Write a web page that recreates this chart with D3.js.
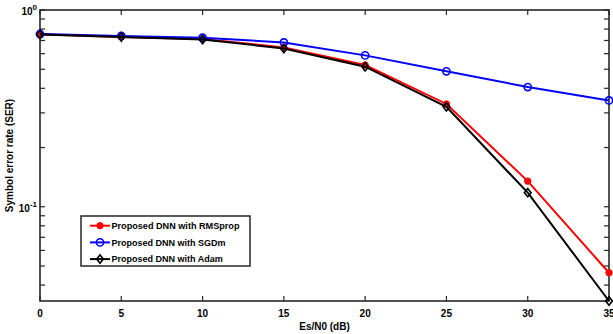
<!DOCTYPE html>
<html><head><meta charset="utf-8">
<script src="https://cdn.jsdelivr.net/npm/d3@7"></script>
<style>body{margin:0;background:#fff}svg{display:block}text{font-family:"Liberation Sans",Arial,sans-serif;font-weight:bold;fill:#000}</style>
</head><body><svg id="c" width="613" height="334"></svg>
<script>
const snr = [0, 5, 10, 15, 20, 25, 30, 35];
const rmsprop = [0.752, 0.730, 0.712, 0.645, 0.525, 0.333, 0.135, 0.0462];
const sgdm = [0.755, 0.738, 0.723, 0.684, 0.588, 0.488, 0.406, 0.347];
const adam = [0.750, 0.729, 0.708, 0.638, 0.515, 0.322, 0.118, 0.0332];
const seriesNames = ["Proposed DNN with RMSprop", "Proposed DNN with SGDm", "Proposed DNN with Adam"];
const xTicks = [0, 5, 10, 15, 20, 25, 30, 35];
const xDomain = [0, 35];
const yDomain = [0.0332, 1];
const yMajor = [1, 0.1];
const yMinor = [0.9,0.8,0.7,0.6,0.5,0.4,0.3,0.2,0.09,0.08,0.07,0.06,0.05,0.04];

const svg = d3.select("#c");
const L = 40, R = 609, T = 10, B = 301;
const x = d3.scaleLinear().domain(xDomain).range([L, R]);
const y = d3.scaleLog().domain(yDomain).range([B, T]);
const axisColor = "#262626";
const tl = 5;

// frame
svg.append("rect").attr("x", L).attr("y", T).attr("width", R - L).attr("height", B - T)
  .attr("fill", "none").attr("stroke", axisColor).attr("stroke-width", 1.6);

// x ticks
const gx = svg.append("g");
xTicks.forEach(v => {
  gx.append("line").attr("x1", x(v)).attr("x2", x(v)).attr("y1", B).attr("y2", B - tl).attr("stroke", axisColor).attr("stroke-width", 1.2);
  gx.append("line").attr("x1", x(v)).attr("x2", x(v)).attr("y1", T).attr("y2", T + tl).attr("stroke", axisColor).attr("stroke-width", 1.2);
  gx.append("text").attr("x", x(v)).attr("y", B + 16).attr("text-anchor", "middle").attr("font-size", 10).text(v);
});
// y ticks
yMajor.concat(yMinor).forEach(v => {
  svg.append("line").attr("x1", L).attr("x2", L + tl).attr("y1", y(v)).attr("y2", y(v)).attr("stroke", axisColor).attr("stroke-width", 1.2);
  svg.append("line").attr("x1", R).attr("x2", R - tl).attr("y1", y(v)).attr("y2", y(v)).attr("stroke", axisColor).attr("stroke-width", 1.2);
});
yMajor.forEach(v => {
  const e = Math.round(Math.log10(v));
  const t = svg.append("text").attr("x", 37).attr("y", y(v) + 5).attr("text-anchor", "end").attr("font-size", 10);
  t.append("tspan").text("10");
  t.append("tspan").attr("dy", -5).attr("font-size", 8).text(e);
});

// labels
svg.append("text").attr("x", (L + R) / 2).attr("y", 330).attr("text-anchor", "middle").attr("font-size", 10).text("Es/N0 (dB)");
svg.append("text").attr("transform", `translate(13,${(T + B) / 2}) rotate(-90)`).attr("text-anchor", "middle").attr("font-size", 10).text("Symbol error rate (SER)");

const series = [
  {vals: rmsprop, color: "#ff0000", marker: "dot"},
  {vals: sgdm, color: "#0000ff", marker: "circle"},
  {vals: adam, color: "#000000", marker: "diamond"}
];
const line = d3.line().x((d, i) => x(snr[i])).y(d => y(d));
function drawMarker(g, cx, cy, s) {
  if (s.marker === "dot") {
    g.append("circle").attr("cx", cx).attr("cy", cy).attr("r", 3.2).attr("fill", s.color).attr("stroke", s.color).attr("stroke-width", 1);
  } else if (s.marker === "circle") {
    g.append("circle").attr("cx", cx).attr("cy", cy).attr("r", 3.6).attr("fill", "none").attr("stroke", s.color).attr("stroke-width", 1.6);
  } else {
    const d = 4.2;
    g.append("path").attr("d", `M${cx},${cy - d}L${cx + d * 0.8},${cy}L${cx},${cy + d}L${cx - d * 0.8},${cy}Z`)
      .attr("fill", "none").attr("stroke", s.color).attr("stroke-width", 1.6);
  }
}
series.forEach(s => {
  const g = svg.append("g");
  g.append("path").attr("d", line(s.vals)).attr("fill", "none").attr("stroke", s.color).attr("stroke-width", 2);
  s.vals.forEach((v, i) => drawMarker(g, x(snr[i]), y(v), s));
});

// legend
const lg = svg.append("g");
lg.append("rect").attr("x", 81).attr("y", 216).attr("width", 169).attr("height", 50)
  .attr("fill", "#fff").attr("stroke", axisColor).attr("stroke-width", 1.5);
series.forEach((s, i) => {
  const cy = 225.7 + i * 16.7;
  lg.append("line").attr("x1", 90).attr("x2", 110).attr("y1", cy).attr("y2", cy).attr("stroke", s.color).attr("stroke-width", 2);
  drawMarker(lg, 100, cy, s);
  lg.append("text").attr("x", 111.5).attr("y", cy + 3.3).attr("font-size", 9).attr("textLength", 128).attr("lengthAdjust", "spacingAndGlyphs").text(seriesNames[i]).attr("textLength", i === 0 ? 128 : null);
});
</script></body></html>
